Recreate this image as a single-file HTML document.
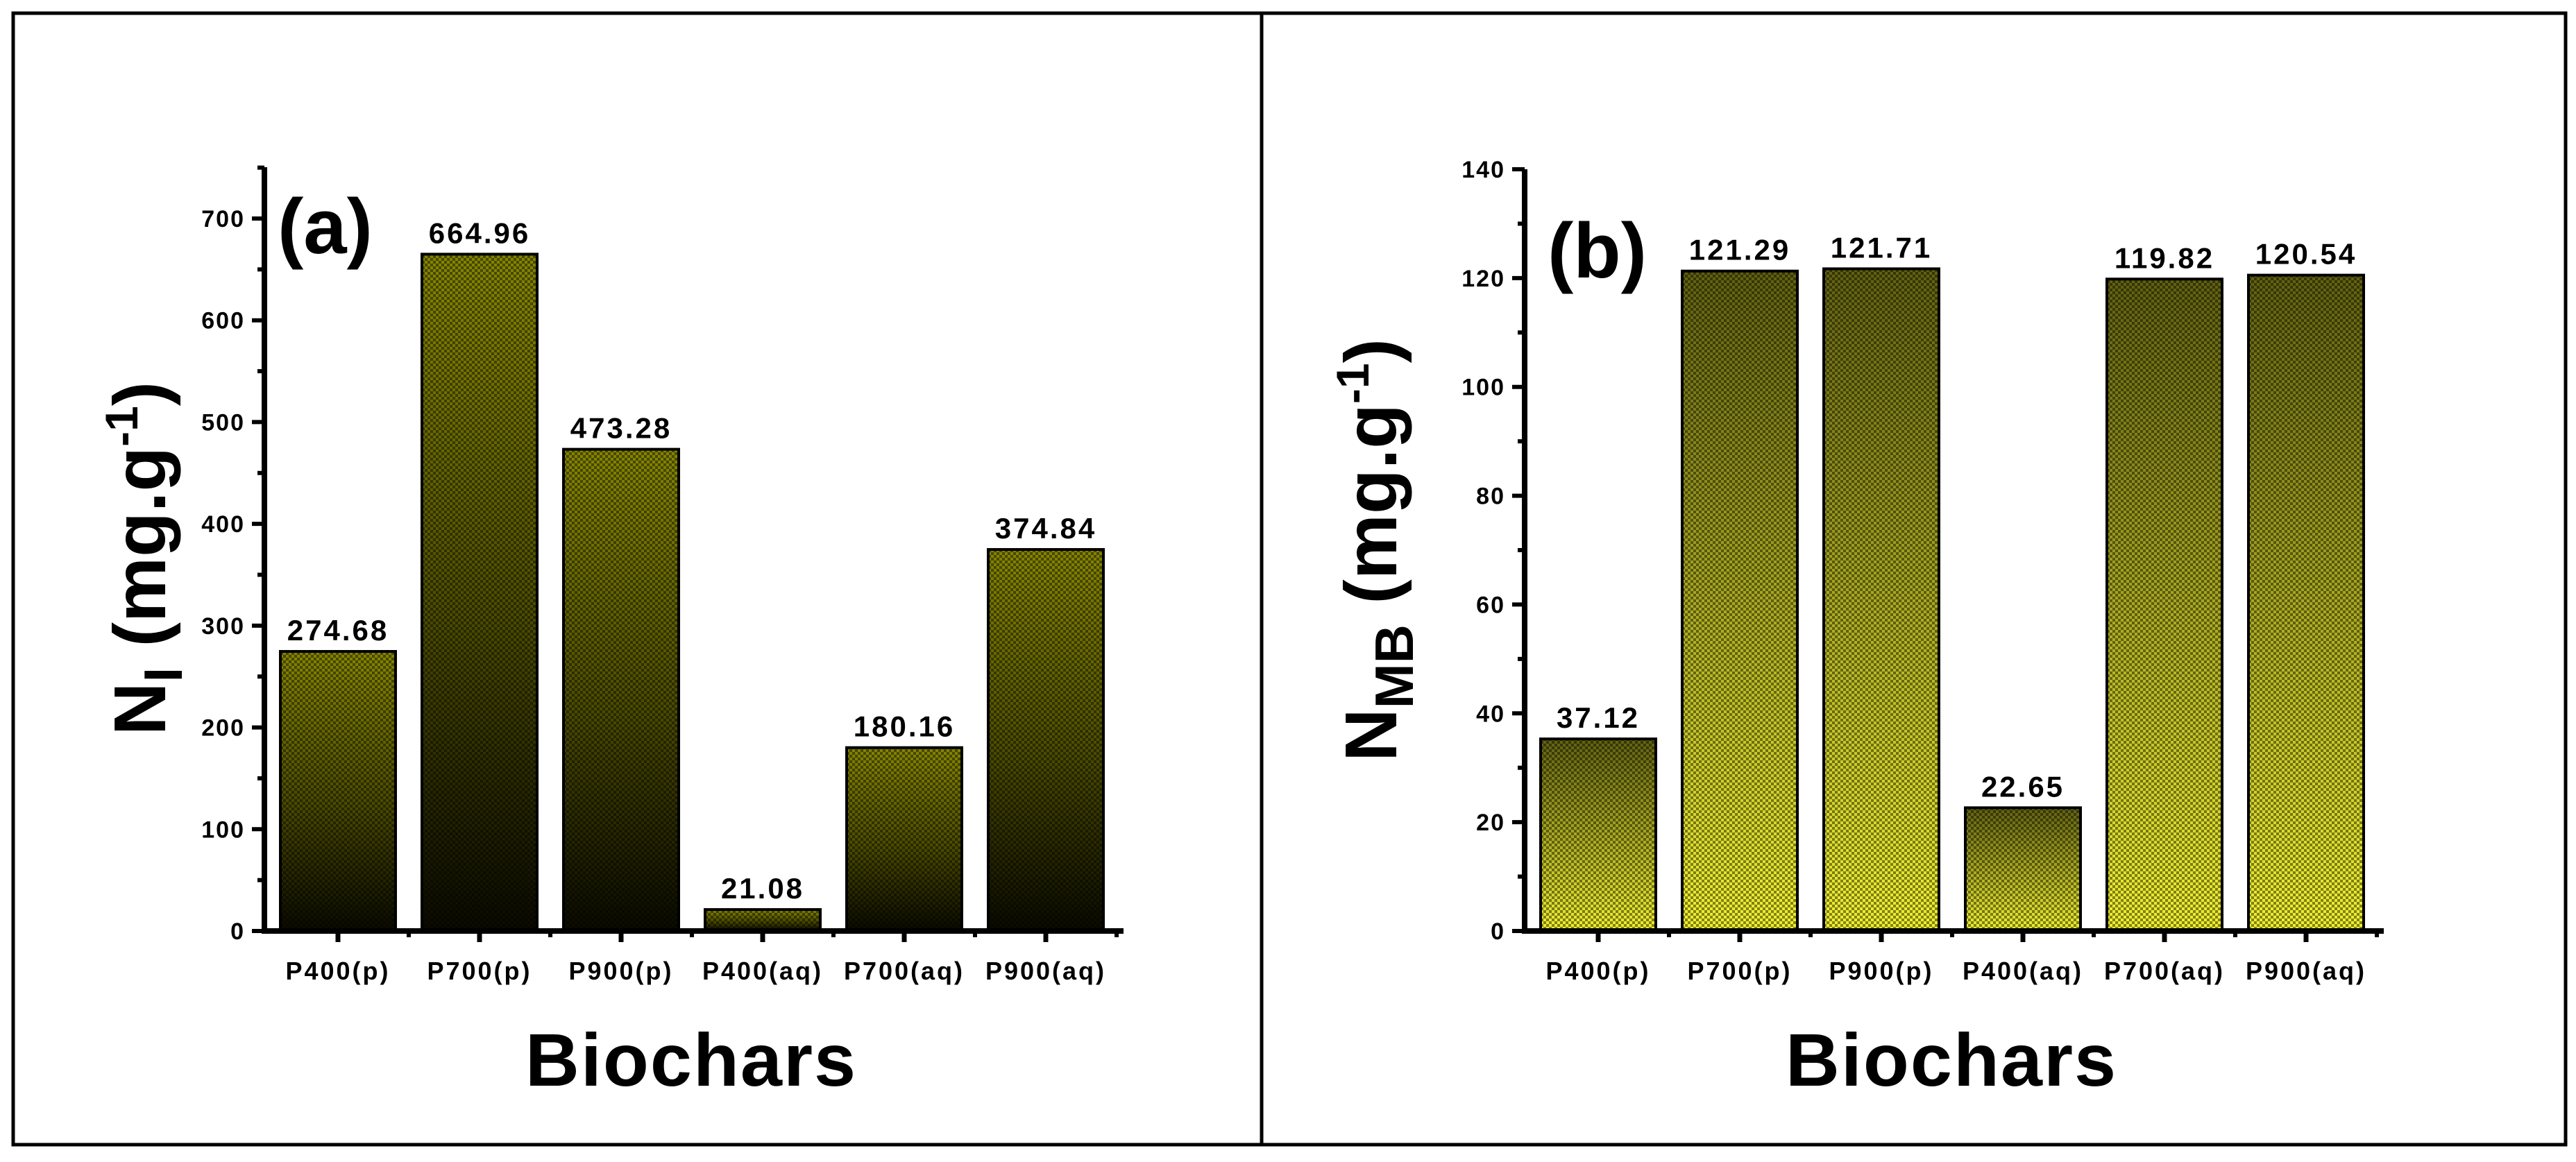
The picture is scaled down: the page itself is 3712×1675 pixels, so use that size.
<!DOCTYPE html>
<html><head><meta charset="utf-8">
<style>
html,body{margin:0;padding:0;background:#fff;}
svg{display:block;font-family:"Liberation Sans",Arial,sans-serif;font-weight:bold;}
</style></head>
<body>
<svg id="fig" width="3712" height="1675" viewBox="0 0 3712 1675" xmlns="http://www.w3.org/2000/svg">
<defs>
  <linearGradient id="gradA" x1="0" y1="0" x2="0" y2="1">
    <stop offset="0" stop-color="#858500"/>
    <stop offset="0.55" stop-color="#4a4a00"/>
    <stop offset="1" stop-color="#0a0a00"/>
  </linearGradient>
  <linearGradient id="gradB" x1="0" y1="0" x2="0" y2="1">
    <stop offset="0" stop-color="#606010"/>
    <stop offset="0.5" stop-color="#a8a820"/>
    <stop offset="1" stop-color="#f0f030"/>
  </linearGradient>
  <pattern id="chk" width="8" height="8" patternUnits="userSpaceOnUse">
    <rect x="0" y="0" width="4" height="4" fill="#000" fill-opacity="0.45"/>
    <rect x="4" y="4" width="4" height="4" fill="#000" fill-opacity="0.45"/>
  </pattern>
</defs>
<rect x="19" y="19" width="3678" height="1631" fill="none" stroke="#000" stroke-width="5"/>
<line x1="1818" y1="19" x2="1818" y2="1650" stroke="#000" stroke-width="5"/>
<g id="panelA"></g>
<g id="panelB"></g>
</svg>
<script>
const categories = ["P400(p)","P700(p)","P900(p)","P400(aq)","P700(aq)","P900(aq)"];
const valuesA = [274.68, 664.96, 473.28, 21.08, 180.16, 374.84];
const labelsA = ["274.68","664.96","473.28","21.08","180.16","374.84"];
const ticksA = [0,100,200,300,400,500,600,700];
const valuesB = [35.3, 121.29, 121.71, 22.65, 119.82, 120.54];
const labelsB = ["37.12","121.29","121.71","22.65","119.82","120.54"];
const ticksB = [0,20,40,60,80,100,120,140];

const NS = "http://www.w3.org/2000/svg";
function mk(parent, tag, attrs, text) {
  const e = document.createElementNS(NS, tag);
  for (const k in attrs) e.setAttribute(k, attrs[k]);
  if (text !== undefined) e.textContent = text;
  parent.appendChild(e);
  return e;
}

function panel(g, cfg) {
  const axX = cfg.axX, y0 = 1342, yTop = cfg.yTop, yMax = cfg.yMax, yMaxPx = cfg.yMaxPx;
  const pitch = 204, barW = 166, xEnd = axX + pitch * categories.length + 14;
  const yS = v => y0 - (v / yMax) * (y0 - yMaxPx);
  const xC = i => axX + 106 + i * pitch;

  categories.forEach((c, i) => {
    const v = cfg.values[i];
    const r = mk(g, "rect", {x: xC(i) - barW/2, y: yS(v), width: barW, height: y0 - yS(v), fill: cfg.grad, stroke: "#000", "stroke-width": 4});
    
    
    const p = mk(g, "rect", {x: xC(i) - barW/2, y: yS(v), width: barW, height: y0 - yS(v), fill: "url(#chk)"});
    
    
    const t = mk(g, "text", {x: xC(i), y: yS(v) - 16, "text-anchor": "middle", "font-size": 42, "letter-spacing": 3}, cfg.labels[i]);
    
    
    const xl = mk(g, "text", {x: xC(i), y: 1412, "text-anchor": "middle", "font-size": 36, "letter-spacing": 3}, c);
    
    
    const tk = mk(g, "line", {x1: xC(i), y1: y0, x2: xC(i), y2: y0 + 16, stroke: "#000", "stroke-width": 7});
    
    
    const mt = mk(g, "line", {x1: xC(i) + pitch/2, y1: y0, x2: xC(i) + pitch/2, y2: y0 + 9, stroke: "#000", "stroke-width": 6});
    
    
  });
  const step = cfg.ticks[1] - cfg.ticks[0];
  cfg.ticks.forEach(v => {
    const ln = mk(g, "line", {x1: axX - 18, y1: yS(v), x2: axX, y2: yS(v), stroke: "#000", "stroke-width": 6});
    
    
    const tl = mk(g, "text", {x: axX - 28, y: yS(v) + 12, "text-anchor": "end", "font-size": 34, "letter-spacing": 2}, String(v));
    
    
    const mv = v + step / 2;
    if (yS(mv) > yTop) {
      const mn = mk(g, "line", {x1: axX - 10, y1: yS(mv), x2: axX, y2: yS(mv), stroke: "#000", "stroke-width": 6});
      
      
    }
  });
  const ya = mk(g, "line", {x1: axX, y1: yTop, x2: axX, y2: y0 + 4, stroke: "#000", "stroke-width": 8});
  
  
  const xa = mk(g, "line", {x1: axX - 4, y1: y0, x2: xEnd, y2: y0, stroke: "#000", "stroke-width": 8});
  
  
  const pl = mk(g, "text", {x: cfg.plX, y: cfg.plY, "font-size": 112}, cfg.panelLabel);
  
  
  const xt = mk(g, "text", {x: axX + 615, y: 1565, "text-anchor": "middle", "font-size": 108, "letter-spacing": 2}, "Biochars");
  
  
  const yt = mk(g, "text", {transform: `translate(${cfg.ytX},${cfg.ytY}) rotate(-90)`, "text-anchor": "middle", "font-size": 106});
  
  
  mk(yt, "tspan", {}, "N");
  mk(yt, "tspan", {dy: 24, "font-size": 78}, cfg.sub);
  mk(yt, "tspan", {dy: -24}, " (mg.g");
  mk(yt, "tspan", {dy: -40, "font-size": 66}, "-1");
  mk(yt, "tspan", {dy: 40}, ")");
}

panel(document.getElementById("panelA"), {
  axX: 381, yTop: 241, yMax: 700, yMaxPx: 315, values: valuesA, labels: labelsA, ticks: ticksA,
  grad: "url(#gradA)", panelLabel: "(a)", plX: 400, plY: 365, ytX: 238, ytY: 805, sub: "I"
});
panel(document.getElementById("panelB"), {
  axX: 2197, yTop: 244, yMax: 140, yMaxPx: 244, values: valuesB, labels: labelsB, ticks: ticksB,
  grad: "url(#gradB)", panelLabel: "(b)", plX: 2230, plY: 400, ytX: 2012, ytY: 793, sub: "MB"
});
</script>
</body></html>
